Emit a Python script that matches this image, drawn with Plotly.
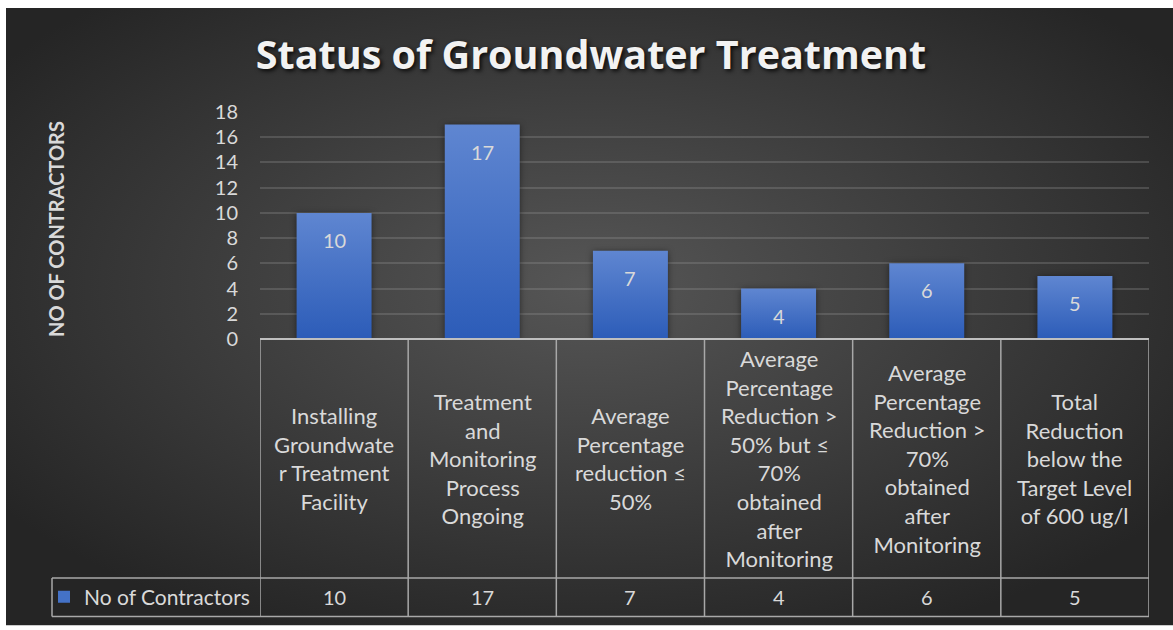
import base64
import plotly.graph_objects as go

# ---------------- data ----------------
categories = [
    "Installing<br>Groundwate<br>r Treatment<br>Facility",
    "Treatment<br>and<br>Monitoring<br>Process<br>Ongoing",
    "Average<br>Percentage<br>reduction ≤<br>50%",
    "Average<br>Percentage<br>Reduction ><br>50% but ≤<br>70%<br>obtained<br>after<br>Monitoring",
    "Average<br>Percentage<br>Reduction ><br>70%<br>obtained<br>after<br>Monitoring",
    "Total<br>Reduction<br>below the<br>Target Level<br>of 600 ug/l",
]
values = [10, 17, 7, 4, 6, 5]
series_name = "No of Contractors"
title_text = "Status of Groundwater Treatment"
y_title = "NO OF CONTRACTORS"
y_ticks = [0, 2, 4, 6, 8, 10, 12, 14, 16, 18]

# ---------------- layout geometry (pixels) ----------------
W, H = 1173, 630
PL, PR, PT, PB = 260, 1149, 112, 341          # plot area
TABLE_MID, TABLE_BOT = 582, 621               # table row lines
LEG_LEFT = 52

def px(x):
    return (x - PL) / (PR - PL)

def py(y):
    return (PB - y) / (PB - PT)

TXT = "#d9d9d9"
LINE = "#a8a8a8"
FONT = "Lato"
xs = list(range(len(categories)))

fig = go.Figure()
fig.add_trace(go.Bar(
    x=xs, y=values, name=series_name,
    marker=dict(color="#4472c7", line=dict(width=0)),
    width=0.506, showlegend=True,
))

# data labels inside bars
for xi, v in zip(xs, values):
    fig.add_annotation(x=xi, y=v, xref="x", yref="y", text=str(v),
                       showarrow=False, yshift=-27,
                       font=dict(family=FONT, size=20, color=TXT))

# category labels (table row 1) and values (table row 2)
for xi, c, v in zip(xs, categories, values):
    fig.add_annotation(x=xi, y=py((PB + TABLE_MID) / 2), xref="x", yref="paper",
                       text=c, showarrow=False, yanchor="middle",
                       font=dict(family=FONT, size=22, color=TXT))
    fig.add_annotation(x=xi, y=py((TABLE_MID + TABLE_BOT) / 2), xref="x", yref="paper",
                       text=str(v), showarrow=False, yanchor="middle",
                       font=dict(family=FONT, size=20, color=TXT))

# table lines
shapes = []
n = len(categories)
for k in range(n + 1):
    shapes.append(dict(type="line", xref="x", yref="paper",
                       x0=k - 0.5, x1=k - 0.5, y0=py(PB), y1=py(TABLE_BOT),
                       line=dict(color=LINE, width=1.5)))
for yy in (TABLE_MID, TABLE_BOT):
    shapes.append(dict(type="line", xref="paper", yref="paper",
                       x0=px(LEG_LEFT), x1=1, y0=py(yy), y1=py(yy),
                       line=dict(color=LINE, width=1.5)))
shapes.append(dict(type="line", xref="paper", yref="paper",
                   x0=px(LEG_LEFT), x1=px(LEG_LEFT), y0=py(TABLE_MID), y1=py(TABLE_BOT),
                   line=dict(color=LINE, width=1.5)))
shapes.append(dict(type="line", xref="paper", yref="paper",
                   x0=0, x1=1, y0=0, y1=0,
                   line=dict(color="#bfbfbf", width=2)))

# y-axis title
fig.add_annotation(x=px(56), y=py(230), xref="paper", yref="paper",
                   xanchor="center", yanchor="middle",
                   text=f"<b>{y_title}</b>", textangle=-90, showarrow=False,
                   font=dict(family=FONT, size=20, color=TXT))

# background radial gradient
svg = ('<svg xmlns="http://www.w3.org/2000/svg" width="100" height="100" viewBox="0 0 100 100" '
       'preserveAspectRatio="none"><defs><radialGradient id="g" cx="0.5" cy="0.45" r="0.62">'
       '<stop offset="0" stop-color="#565656"/><stop offset="1" stop-color="#252525"/>'
       '</radialGradient></defs><rect width="100" height="100" fill="url(#g)"/></svg>')
src = "data:image/svg+xml;base64," + base64.b64encode(svg.encode()).decode()

fig.update_layout(
    width=W, height=H,
    margin=dict(l=PL, r=W - PR, t=PT, b=H - PB, pad=0),
    paper_bgcolor="white",
    plot_bgcolor="rgba(0,0,0,0)",
    images=[dict(source=src, xref="paper", yref="paper",
                 x=px(6), y=py(7), sizex=px(W) - px(6), sizey=py(7) - py(H),
                 xanchor="left", yanchor="top", sizing="stretch", layer="below")],
    shapes=shapes,
    title=dict(text=title_text, x=px(591), xanchor="center",
               y=1 - 55 / H, yanchor="middle", xref="paper",
               font=dict(family="Open Sans", size=39.5, weight=700, color="#f2f2f2",
                         shadow="2px 2px 4px rgba(0,0,0,0.85)")),
    xaxis=dict(range=[-0.5, n - 0.5], showticklabels=False, showgrid=False,
               zeroline=False, showline=False, ticks=""),
    yaxis=dict(range=[0, 18], tickvals=y_ticks, showgrid=True,
               gridcolor="rgba(150,150,150,0.3)", gridwidth=1.5,
               zeroline=False, showline=False, ticks="",
               ticklabelstandoff=21,
               tickfont=dict(family=FONT, size=20, color=TXT)),
    legend=dict(x=px(44), y=py((TABLE_MID + TABLE_BOT) / 2), xanchor="left",
                yanchor="middle", bgcolor="rgba(0,0,0,0)",
                font=dict(family=FONT, size=21, color=TXT)),
    showlegend=True,
    bargap=0.494,
)

# vertical gradient + soft shadow on the bars (style only)
post = """
document.body.style.margin='0px';
document.body.style.overflow='hidden';
var gd = document.getElementById('{plot_id}');
var svgEl = gd.querySelector('.main-svg');
var ns = 'http://www.w3.org/2000/svg';
var defs = svgEl.querySelector('defs');
var lg = document.createElementNS(ns, 'linearGradient');
lg.setAttribute('id', 'bargrad');
lg.setAttribute('x1', '0'); lg.setAttribute('y1', '0');
lg.setAttribute('x2', '0'); lg.setAttribute('y2', '1');
[['0', '#5f86d1'], ['1', '#2c5cb8']].forEach(function (s) {
  var st = document.createElementNS(ns, 'stop');
  st.setAttribute('offset', s[0]);
  st.setAttribute('stop-color', s[1]);
  lg.appendChild(st);
});
defs.appendChild(lg);
gd.querySelectorAll('.barlayer .point path').forEach(function (p) {
  p.style.fill = 'url(#bargrad)';
  p.style.filter = 'drop-shadow(0px 1px 3px rgba(0,0,0,0.5))';
});
"""

fig.write_html("out.html", config={"displayModeBar": False}, post_script=post)
